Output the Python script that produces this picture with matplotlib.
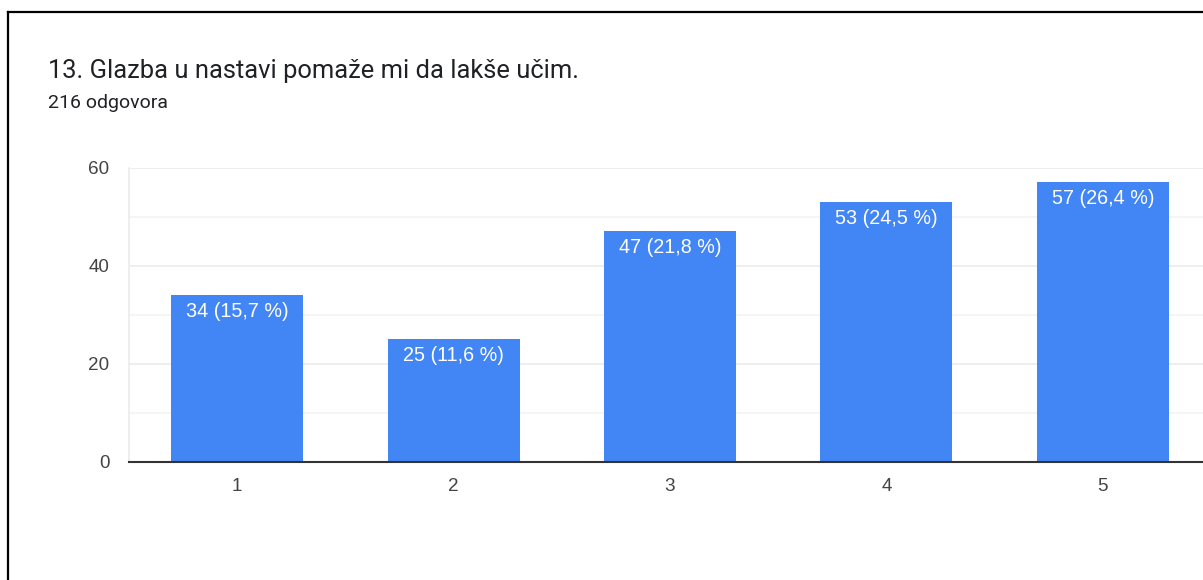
import matplotlib.pyplot as plt
from matplotlib.lines import Line2D

# data
categories = ["1", "2", "3", "4", "5"]
counts = [34, 25, 47, 53, 57]
percent_labels = ["15,7", "11,6", "21,8", "24,5", "26,4"]
title = "13. Glazba u nastavi pomaže mi da lakše učim."
subtitle = "216 odgovora"

fig = plt.figure(figsize=(12.03, 5.8), dpi=100)
W, H = 1203, 580

ax = fig.add_axes([129 / W, 1 - 461.7 / H, 1082 / W, 294 / H])

x = list(range(1, len(categories) + 1))
ax.bar(x, counts, width=0.61, color="#4285F4", zorder=3)

for xi, c, p in zip(x, counts, percent_labels):
    ax.annotate(f"{c} ({p} %)", xy=(xi, c), xytext=(0, -5), textcoords="offset points",
                ha="center", va="top", color="white", fontsize=14.2,
                family="Liberation Sans", zorder=4)

ax.set_xlim(0.5, 5.5)
ax.set_ylim(0, 60)
ax.set_yticks([0, 20, 40, 60])
ax.set_yticks([10, 30, 50], minor=True)
ax.set_xticks(x)
ax.set_xticklabels(categories)
ax.grid(axis="y", which="major", color="#ebebeb", linewidth=1.2, zorder=0)
ax.grid(axis="y", which="minor", color="#f4f4f4", linewidth=1.2, zorder=0)
ax.tick_params(axis="both", which="both", length=0, labelsize=13.6, labelcolor="#444444")
ax.tick_params(axis="y", pad=14)
ax.tick_params(axis="x", pad=12)
for lbl in ax.get_xticklabels() + ax.get_yticklabels():
    lbl.set_family("Liberation Sans")

for s in ["top", "right"]:
    ax.spines[s].set_visible(False)
ax.spines["left"].set_color("#ebebeb")
ax.spines["left"].set_linewidth(1.2)
ax.spines["bottom"].set_color("#333333")
ax.spines["bottom"].set_linewidth(1.5)
ax.spines["bottom"].set_zorder(5)

fig.text(48 / W, 1 - 71 / H, title, fontsize=18.4, family="Roboto", color="#202124", va="center")
fig.text(48 / W, 1 - 103 / H, subtitle, fontsize=14, family="Roboto", color="#202124", va="center")

# black frame (cut off at right and bottom)
fig.add_artist(Line2D([8.3 / W, 8.3 / W], [0, 1 - 11.8 / H], color="black", linewidth=1.6,
                      transform=fig.transFigure))
fig.add_artist(Line2D([8.3 / W, 1], [1 - 11.8 / H, 1 - 11.8 / H], color="black", linewidth=1.6,
                      transform=fig.transFigure))

fig.savefig("out.png", dpi=100)
